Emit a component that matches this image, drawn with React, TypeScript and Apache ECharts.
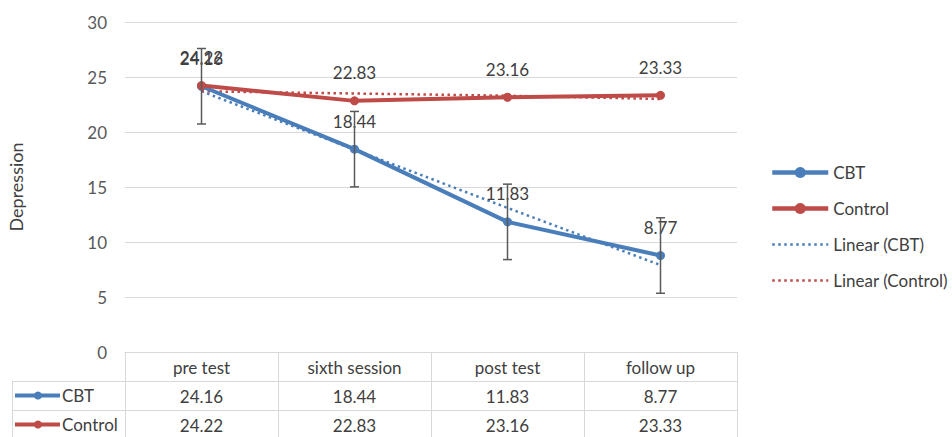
import React, { useEffect, useRef } from "react";
import * as echarts from "echarts";

const categories = ["pre test", "sixth session", "post test", "follow up"];
const cbtValues = [24.16, 18.44, 11.83, 8.77];
const controlValues = [24.22, 22.83, 23.16, 23.33];
const cbtError = [3.43, 3.43, 3.43, 3.43];
const trendCbt = [23.7, 18.4, 13.1, 7.9];
const trendControl = [23.7, 23.5, 23.3, 23.0];
const yMin = 0;
const yMax = 30;
const yStep = 5;

const BLUE = "#4a7ebb";
const RED = "#be4b48";
const TEXT = "#404040";
const GRID = "#d9d9d9";
const FONT = 'Lato, "Open Sans", sans-serif';
const FS = 17;

export default function App() {
  const ref = useRef<HTMLDivElement>(null);
  useEffect(() => {
    document.body.style.margin = "0";
    if (!ref.current) return;
    const chart = echarts.init(ref.current, null, { renderer: "svg" });

    const W = 952;
    const gridLeft = 125;
    const gridRight = 737;
    const gridTop = 22;
    const gridBottom = 352;
    const rowH = 29;
    const tableLeft = 12;
    const H = 437;

    const rows = [
      { name: "CBT", color: BLUE, values: cbtValues },
      { name: "Control", color: RED, values: controlValues },
    ];

    const graphics: any[] = [];
    rows.forEach((_, i) => {
      const y = gridBottom + rowH * (i + 1) + 0.5;
      graphics.push({
        type: "line",
        shape: { x1: tableLeft, y1: y, x2: gridRight, y2: y },
        style: { stroke: GRID, lineWidth: 1 },
        silent: true,
      });
    });
    graphics.push({
      type: "line",
      shape: { x1: tableLeft + 0.5, y1: gridBottom + rowH, x2: tableLeft + 0.5, y2: H },
      style: { stroke: GRID, lineWidth: 1 },
      silent: true,
    });
    rows.forEach((r, i) => {
      const cy = gridBottom + rowH * (i + 1) + rowH / 2;
      graphics.push({
        type: "line",
        shape: { x1: 15, y1: cy, x2: 60, y2: cy },
        style: { stroke: r.color, lineWidth: 4 },
        silent: true,
      });
      graphics.push({
        type: "circle",
        shape: { cx: 38, cy, r: 4 },
        style: { fill: r.color },
        silent: true,
      });
      graphics.push({
        type: "text",
        x: 62,
        y: cy,
        style: {
          text: r.name,
          fontSize: FS,
          fill: TEXT,
          fontFamily: FONT,
          align: "left",
          verticalAlign: "middle",
        },
        silent: true,
      });
    });
    graphics.push({
      type: "text",
      x: 16,
      y: (gridTop + gridBottom) / 2,
      rotation: Math.PI / 2,
      style: {
        text: "Depression",
        fontSize: 18,
        fill: TEXT,
        fontFamily: FONT,
        align: "center",
        verticalAlign: "middle",
      },
      silent: true,
    });

    const valueAxisCommon = {
      type: "category" as const,
      position: "bottom" as const,
      axisLine: { show: false },
      axisTick: { show: false },
      axisLabel: { fontSize: FS, color: TEXT, fontFamily: FONT, margin: 7, interval: 0 },
      splitLine: { show: false },
    };

    const labelCfg = {
      show: true,
      position: "top",
      distance: 15,
      fontSize: FS,
      color: TEXT,
      fontFamily: FONT,
      formatter: (p: any) => p.value.toFixed(2),
    };

    const option: any = {
      animation: false,
      grid: {
        left: gridLeft,
        right: W - gridRight,
        top: gridTop,
        bottom: H - gridBottom,
        containLabel: false,
      },
      legend: {
        orient: "vertical",
        left: 765,
        top: 159,
        itemWidth: 56,
        itemHeight: 14,
        itemGap: 19,
        textStyle: { fontSize: FS, color: TEXT, fontFamily: FONT },
        data: [
          { name: "CBT", lineStyle: { width: 4.5 } },
          { name: "Control", lineStyle: { width: 4.5 } },
          { name: "Linear (CBT)", lineStyle: { width: 2.5 }, itemStyle: { opacity: 0 } },
          { name: "Linear (Control)", lineStyle: { width: 2.5 }, itemStyle: { opacity: 0 } },
        ],
      },
      xAxis: [
        {
          type: "category",
          data: categories,
          boundaryGap: true,
          axisLine: { show: true, lineStyle: { color: GRID, width: 1 } },
          axisTick: { show: true, length: H - gridBottom, lineStyle: { color: GRID, width: 1 } },
          axisLabel: { fontSize: FS, color: TEXT, fontFamily: FONT, margin: 7, interval: 0 },
          splitLine: { show: false },
        },
        { ...valueAxisCommon, data: cbtValues.map((v) => v.toFixed(2)), offset: rowH },
        { ...valueAxisCommon, data: controlValues.map((v) => v.toFixed(2)), offset: rowH * 2 },
      ],
      yAxis: {
        type: "value",
        min: yMin,
        max: yMax,
        interval: yStep,
        axisLine: { show: false },
        axisTick: { show: false },
        axisLabel: { fontSize: FS, color: "#595959", fontFamily: FONT, margin: 18 },
        splitLine: { lineStyle: { color: GRID, width: 1 } },
      },
      series: [
        {
          name: "CBT",
          type: "line",
          data: cbtValues,
          color: BLUE,
          lineStyle: { color: BLUE, width: 4 },
          itemStyle: { color: BLUE },
          symbol: "circle",
          symbolSize: 9,
          z: 4,
          label: labelCfg,
        },
        {
          name: "Control",
          type: "line",
          data: controlValues,
          color: RED,
          lineStyle: { color: RED, width: 4 },
          itemStyle: { color: RED },
          symbol: "circle",
          symbolSize: 9,
          z: 4,
          label: labelCfg,
        },
        {
          name: "Linear (CBT)",
          type: "line",
          data: trendCbt,
          color: BLUE,
          symbol: "none",
          lineStyle: { color: BLUE, width: 2.5, type: [2.5, 3.5] },
          z: 3,
        },
        {
          name: "Linear (Control)",
          type: "line",
          data: trendControl,
          color: RED,
          symbol: "none",
          lineStyle: { color: RED, width: 2.5, type: [2.5, 3.5] },
          z: 3,
        },
        {
          name: "CBT error",
          type: "custom",
          z: 6,
          data: categories.map((_, i) => [i, cbtValues[i] - cbtError[i], cbtValues[i] + cbtError[i]]),
          renderItem: (params: any, api: any) => {
            const lo = api.coord([api.value(0), api.value(1)]);
            const hi = api.coord([api.value(0), api.value(2)]);
            const cap = 4.5;
            const st = { stroke: "#595959", lineWidth: 1.5 };
            return {
              type: "group",
              children: [
                { type: "line", shape: { x1: lo[0], y1: lo[1], x2: hi[0], y2: hi[1] }, style: st },
                { type: "line", shape: { x1: lo[0] - cap, y1: lo[1], x2: lo[0] + cap, y2: lo[1] }, style: st },
                { type: "line", shape: { x1: hi[0] - cap, y1: hi[1], x2: hi[0] + cap, y2: hi[1] }, style: st },
              ],
            };
          },
          encode: { x: 0, y: [1, 2] },
          silent: true,
        },
      ],
      graphic: graphics,
    };
    chart.setOption(option);
    return () => chart.dispose();
  }, []);
  return <div ref={ref} style={{ width: 952, height: 437 }} />;
}
